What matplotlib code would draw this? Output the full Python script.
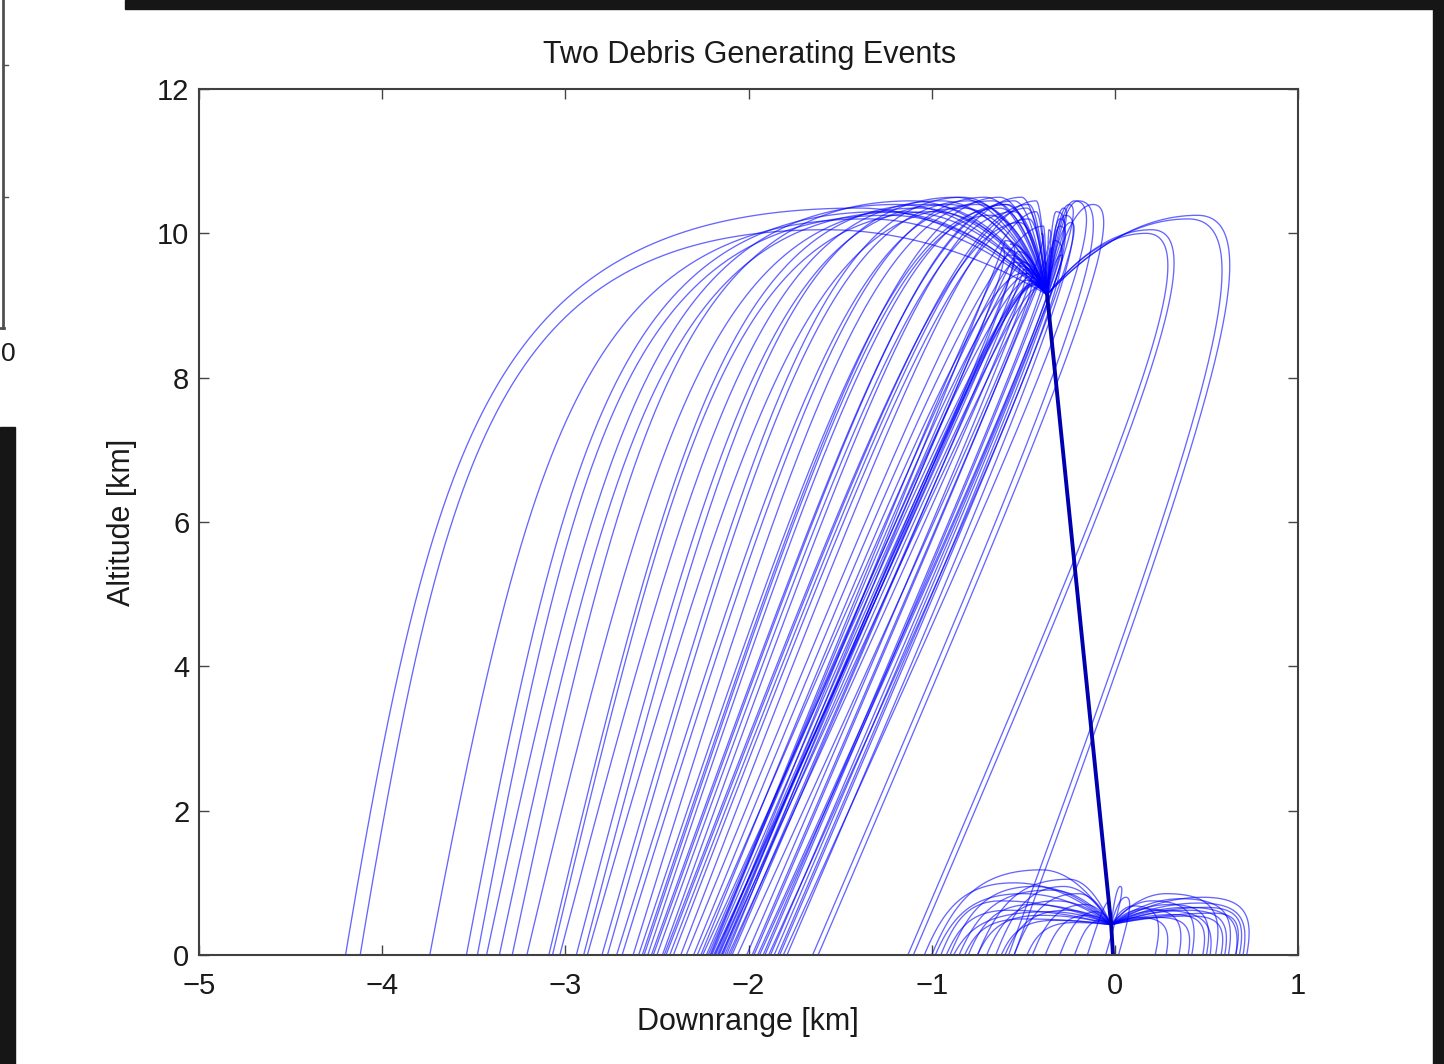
"""Two debris generating events: debris trajectories, downrange vs altitude.

Each piece is drawn from its event point up to its apex and then down to
its landing point; the descent bends toward a drift slope read from the
lower part of each line in the picture.
"""
import numpy as np
import matplotlib
matplotlib.use("Agg")
import matplotlib.pyplot as plt
from matplotlib.patches import Rectangle
from matplotlib.lines import Line2D

# event points [km]
EVENT1_X, EVENT1_ALT = -0.37, 9.15
EVENT2_X, EVENT2_ALT = -0.02, 0.42

# main body path between the two events
MAIN_X = [-0.37, -0.02, -0.01]
MAIN_ALT = [9.15, 0.42, 0.0]

# first event, pieces thrown uprange (landing x, apex x, apex alt, drift)
UP_LAND = [
    -4.20, -4.12, -3.74, -3.54, -3.48, -3.43, -3.36, -3.29, -3.21, -3.09,
    -3.07, -3.03, -2.94, -2.90, -2.88, -2.80, -2.77, -2.72, -2.69, -2.63,
    -2.60, -2.58, -2.55, -2.53, -2.50, -2.47, -2.45, -2.41, -2.37, -2.34,
    -2.30, -2.28, -2.26, -2.25, -2.23, -2.21, -2.20, -2.19, -2.18, -2.17,
    -2.16, -2.15, -2.14, -2.12, -2.09, -2.06, -2.01, -1.98, -1.95, -1.92,
    -1.91, -1.89, -1.86, -1.84, -1.81, -1.79, -1.65, -1.62,
    -2.57, -2.52, -2.46, -2.43, -2.22, -2.205, -2.185, -2.165, -2.145,
    -2.13, -2.11, -2.10, -1.97, -1.94, -1.88, -1.83,
]
UP_APEX_X = [
    -1.40, -1.58, -1.35, -1.27, -1.23, -1.19, -1.15, -1.11, -1.07, -1.03,
    -0.99, -0.95, -0.91, -0.87, -0.83, -0.83, -0.79, -0.75, -0.71, -0.67,
    -0.63, -0.63, -0.59, -0.55, -0.55, -0.51, -0.47, -0.47, -0.43, -0.43,
    -0.39, -0.55, -0.50, -0.62, -0.48, -0.58, -0.45, -0.52, -0.44, -0.60,
    -0.47, -0.42, -0.55, -0.43, -0.50, -0.46, -0.40, -0.35, -0.30, -0.38,
    -0.28, -0.33, -0.25, -0.30, -0.22, -0.27, -0.20, -0.12,
    -0.68, -0.60, -0.52, -0.48, -0.53, -0.46, -0.57, -0.44, -0.50,
    -0.41, -0.49, -0.45, -0.36, -0.32, -0.29, -0.24,
]
UP_APEX_ALT = [
    10.35, 10.05, 10.20, 10.30, 10.25, 10.40, 10.30, 10.45, 10.35, 10.40,
    10.30, 10.45, 10.40, 10.50, 10.35, 10.50, 10.45, 10.40, 10.50, 10.45,
    10.35, 10.50, 10.40, 10.45, 10.30, 10.50, 10.40, 10.20, 10.45, 10.30,
    10.10, 9.60, 9.45, 9.80, 9.35, 9.70, 9.30, 9.55, 9.28, 9.90,
    9.40, 9.25, 9.65, 9.30, 9.50, 9.35, 10.00, 9.80, 10.20, 9.60,
    10.35, 9.90, 10.40, 10.10, 10.45, 10.25, 10.45, 10.40,
    10.25, 10.40, 10.15, 10.35, 9.75, 9.45, 9.85, 9.32, 9.60,
    9.27, 9.52, 9.38, 10.05, 10.30, 9.70, 10.15,
]
UP_DRIFT = [
    0.06, 0.06, 0.07, 0.07, 0.07, 0.08, 0.08, 0.08, 0.09, 0.09,
    0.09, 0.10, 0.10, 0.10, 0.11, 0.11, 0.11, 0.12, 0.12, 0.12,
    0.13, 0.13, 0.13, 0.14, 0.14, 0.14, 0.15, 0.15, 0.15, 0.16,
    0.16, 0.17, 0.16, 0.18, 0.17, 0.16, 0.17, 0.18, 0.17, 0.16,
    0.17, 0.18, 0.17, 0.16, 0.17, 0.18, 0.17, 0.17, 0.18, 0.17,
    0.17, 0.18, 0.17, 0.17, 0.18, 0.17, 0.17, 0.17,
    0.13, 0.14, 0.15, 0.15, 0.17, 0.16, 0.18, 0.17, 0.16,
    0.17, 0.18, 0.17, 0.17, 0.18, 0.17, 0.17,
]

# first event, pieces thrown downrange that blow back
EAST_LAND = [-0.55, -0.58, -1.10, -1.13]
EAST_APEX_X = [0.45, 0.40, 0.20, 0.17]
EAST_APEX_ALT = [10.25, 10.20, 10.05, 10.00]
EAST_DRIFT = [0.145, 0.145, 0.17, 0.17]

# second event, near the ground
LO_LAND = [
    -1.00, -1.04, -0.75, -0.98, -0.95, -0.85, -0.92, -0.80, -0.70, -0.75,
    -0.55, -0.60, -0.82, -0.45, -0.62, -0.38, -0.48, -0.30, -0.22, -0.88,
    -0.65, -0.90, -0.05, 0.02, -0.15, 0.55, 0.62, 0.70, 0.68, 0.50,
    0.60, 0.42, 0.66, 0.35, 0.48, 0.40, 0.58, 0.28, 0.72, 0.22,
    0.52, 0.66,
]
LO_APEX_X = [
    -0.40, -0.55, -0.25, -0.50, -0.62, -0.35, -0.58, -0.45, -0.32, -0.40,
    -0.20, -0.26, -0.50, -0.16, -0.33, -0.15, -0.22, -0.10, -0.08, -0.36,
    -0.28, -0.44, 0.03, 0.06, -0.03, 0.28, 0.36, 0.46, 0.50, 0.30,
    0.40, 0.20, 0.54, 0.16, 0.32, 0.24, 0.42, 0.13, 0.48, 0.10,
    0.25, 0.40,
]
LO_APEX_ALT = [
    1.18, 1.00, 1.05, 0.85, 0.75, 0.90, 0.62, 0.70, 0.75, 0.55,
    0.85, 0.62, 0.50, 0.70, 0.48, 0.55, 0.45, 0.60, 0.48, 0.60,
    0.95, 0.95, 0.95, 0.80, 0.75, 0.85, 0.78, 0.72, 0.66, 0.70,
    0.62, 0.75, 0.58, 0.64, 0.56, 0.52, 0.54, 0.52, 0.80, 0.68,
    0.62, 0.66,
]
LO_DRIFT = 0.12

X_TICKS = [-5, -4, -3, -2, -1, 0, 1]
Y_TICKS = [0, 2, 4, 6, 8, 10, 12]

SHAPE_K_HIGH = 5.0
SHAPE_K_LOW = 3.0
W, H = 1444, 1064
FONT = ["Liberation Sans", "DejaVu Sans"]


def arc(x0, y0, xa, ya, xl, drift, k):
    # rise: parabola with its vertex at the apex
    xr = np.linspace(x0, xa, 40)
    span = x0 - xa
    if abs(span) < 1e-9:
        yr = np.linspace(y0, ya, 40)
    else:
        yr = ya - (ya - y0) * ((xr - xa) / span) ** 2
    # fall: drag-like descent that tends to the drift slope
    s = np.linspace(0, k, 300)
    vt = ya / (k - 1 + np.exp(-k))
    w = drift * vt
    a = (xl - xa + w * k) / (1 - np.exp(-k))
    xd = xa + a * (1 - np.exp(-s)) - w * s
    yd = ya - vt * (s - 1 + np.exp(-s))
    return np.concatenate([xr, xd]), np.concatenate([yr, yd])


plt.rcParams["font.family"] = FONT
fig = plt.figure(figsize=(W / 100, H / 100), dpi=100)
fig.patch.set_facecolor("white")

ax = fig.add_axes([199 / W, 1 - 955 / H, (1298 - 199) / W, (955 - 89) / H])

line_kw = dict(color=(0.0, 0.0, 1.0), lw=0.95, alpha=0.6)
for xl, xa, ya, d in zip(UP_LAND, UP_APEX_X, UP_APEX_ALT, UP_DRIFT):
    x, y = arc(EVENT1_X, EVENT1_ALT, xa, ya, xl, d, SHAPE_K_HIGH)
    ax.plot(x, y, **line_kw)
for xl, xa, ya, d in zip(EAST_LAND, EAST_APEX_X, EAST_APEX_ALT, EAST_DRIFT):
    x, y = arc(EVENT1_X, EVENT1_ALT, xa, ya, xl, d, SHAPE_K_HIGH)
    ax.plot(x, y, **line_kw)
for xl, xa, ya in zip(LO_LAND, LO_APEX_X, LO_APEX_ALT):
    x, y = arc(EVENT2_X, EVENT2_ALT, xa, ya, xl, LO_DRIFT, SHAPE_K_LOW)
    ax.plot(x, y, **line_kw)

ax.plot(MAIN_X, MAIN_ALT, color="#0000b0", lw=2.8, solid_capstyle="round")

ax.set_xlim(-5, 1)
ax.set_ylim(0, 12)
ax.set_xticks(X_TICKS)
ax.set_yticks(Y_TICKS)
ax.tick_params(direction="in", top=True, right=True, length=7, width=1,
               color="#444444", labelsize=21, labelcolor="#1a1a1a")
ax.tick_params(axis="x", pad=12)
ax.tick_params(axis="y", pad=7)
for sp in ax.spines.values():
    sp.set_color("#404040")
    sp.set_linewidth(1.5)

fig.text(750 / W, 1 - 55 / H, "Two Debris Generating Events", ha="center",
         va="center", fontsize=22, color="#1a1a1a")
fig.text(748 / W, 1 - 1022 / H, "Downrange [km]", ha="center", va="center",
         fontsize=22, color="#1a1a1a")
fig.text(122 / W, 1 - 522 / H, "Altitude [km]", ha="center", va="center",
         rotation=90, fontsize=22, color="#1a1a1a")

# slide frame around the picture
dark = "#161616"
fig.patches.append(Rectangle((125 / W, 1 - 9 / H), 1, 9 / H,
                             transform=fig.transFigure, color=dark))
fig.patches.append(Rectangle((1433 / W, 0), 1, 1,
                             transform=fig.transFigure, color=dark))
fig.patches.append(Rectangle((0, 0), 15 / W, 1 - 427 / H,
                             transform=fig.transFigure, color=dark))

# edge of the neighbouring chart at the top left
edge = "#505050"
fig.lines.append(Line2D([3 / W, 3 / W], [1, 1 - 328 / H],
                        transform=fig.transFigure, color=edge, lw=2))
for yp in (65, 197):
    fig.lines.append(Line2D([3 / W, 8 / W], [1 - yp / H, 1 - yp / H],
                            transform=fig.transFigure, color=edge, lw=1))
fig.lines.append(Line2D([0, 4 / W], [1 - 328 / H, 1 - 328 / H],
                        transform=fig.transFigure, color=edge, lw=2))
fig.text(1 / W, 1 - 354 / H, "0", ha="left", va="center", fontsize=19,
         color="#1a1a1a")

fig.savefig("out.png", dpi=100)
